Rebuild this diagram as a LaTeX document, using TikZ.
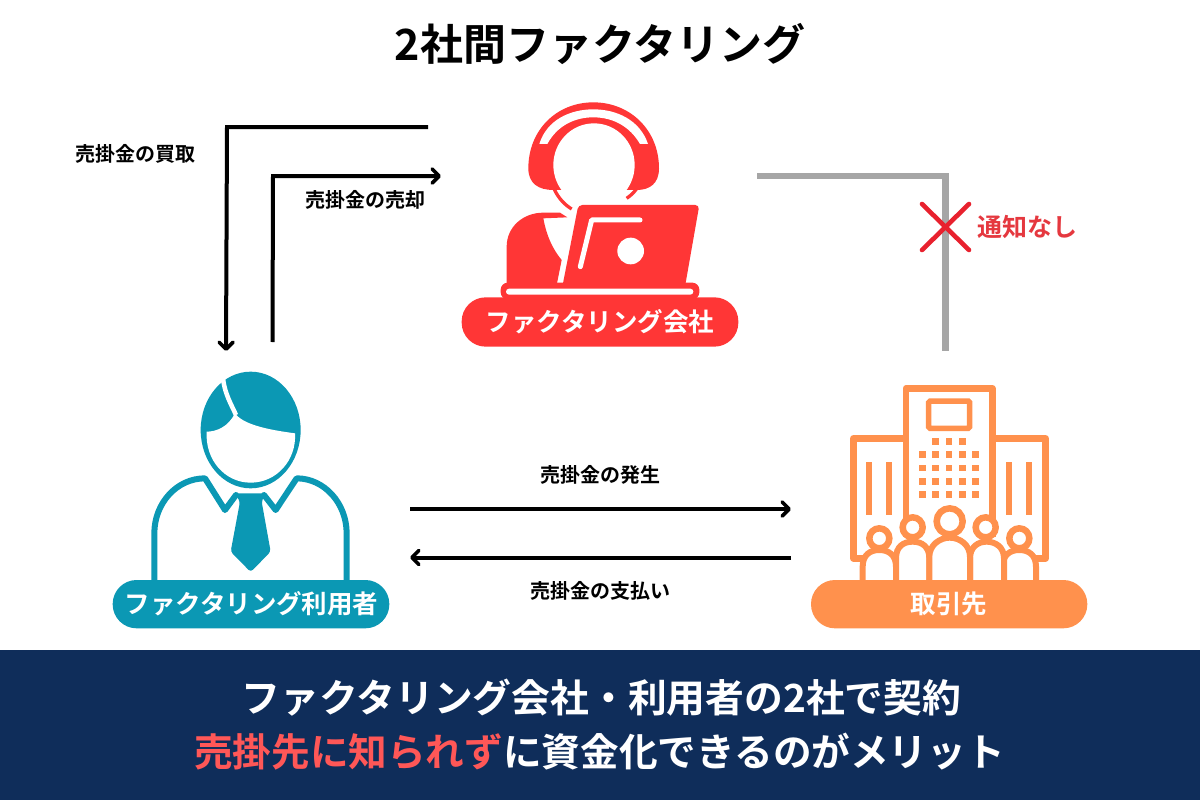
\documentclass[tikz,border=0pt]{standalone}
\usepackage{fontspec}
\setmainfont{Noto Sans CJK JP}[BoldFont={Noto Sans CJK JP Bold}]
\usetikzlibrary{arrows.meta}
\definecolor{cred}{HTML}{FF3636}
\definecolor{cblue}{HTML}{0B98B4}
\definecolor{corange}{HTML}{FF914D}
\definecolor{cnavy}{HTML}{0F2D5A}
\definecolor{cgray}{HTML}{A6A6A6}
\definecolor{cpink}{HTML}{FF5757}
\definecolor{ccross}{HTML}{E8212E}
\definecolor{cnotice}{HTML}{E5383F}
\tikzset{
  x=1pt,y=-1pt,
  lbl/.style={font=\bfseries\fontsize{20}{24}\selectfont,text=black,inner sep=0pt},
  pilltext/.style={font=\bfseries\fontsize{25.5}{30}\selectfont,text=white,inner sep=0pt},
  conn/.style={line width=4pt,-{Straight Barb[length=7pt,width=14pt,line width=3.6pt,round]},line join=miter},
  grayconn/.style={line width=6.5pt,draw=cgray,line join=miter},
  zoomed/.style={x=0.33333pt,y=-0.33333pt},
}
\begin{document}
\begin{tikzpicture}
\useasboundingbox (0,0) rectangle (1200,800);
\fill[white] (0,0) rectangle (1200,800);
\fill[cnavy] (0,650) rectangle (1200,800);
\node[inner sep=0pt,font=\bfseries\fontsize{43}{50}\selectfont] (title) at (600,44) {2社間ファクタリング};

% red icon
\begin{scope}[shift={(440,90)},zoomed]
\fill[cred] (265,235) .. controls (265,120) and (350,37) .. (460,37) .. controls (570,37) and (657,120) .. (657,235) .. controls (657,280) and (630,300) .. (590,300) -- (340,300) .. controls (295,300) and (265,280) .. (265,235) -- cycle;
\fill[white] (298,162) .. controls (320,90) and (390,58) .. (460,58) .. controls (530,58) and (600,90) .. (624,162) -- (600,162) .. controls (570,110) and (520,82) .. (460,82) .. controls (400,82) and (350,110) .. (322,162) -- cycle;
\fill[white] (462,225) ellipse [x radius=122,y radius=125];
\draw[cred,line width=3.3pt] (342,296) .. controls (355,325) and (375,345) .. (395,357);
\draw[cred,line width=3.3pt] (590,296) .. controls (580,310) and (570,318) .. (560,325);
\fill[cred] (200,585) -- (200,470) .. controls (200,410) and (250,368) .. (310,368) -- (360,368) -- (382,382) -- (310,385) .. controls (320,440) and (340,480) .. (365,510) -- (350,585) -- cycle;
\fill[cred,rounded corners=4pt] (415,345) -- (778,345) -- (735,590) -- (367,590) -- cycle;
\draw[white,line width=5pt,line cap=round,line join=round] (600,390) -- (455,390) -- (421,530);
\fill[white] (572,483) circle [radius=40];
\fill[cred,rounded corners=7pt] (182,578) rectangle (778,628);
\fill[white,rounded corners=3pt] (198,596) rectangle (760,614);
\fill[cred,rounded corners=24pt] (65,622) rectangle (895,770);
\end{scope}
\node[pilltext] (redlabel) at (600,322) {ファクタリング会社};

% blue icon
\begin{scope}[shift={(100,360)},zoomed]
\draw[cblue,line width=6pt,line join=round,line cap=round] (163,665) -- (163,520) .. controls (163,430) and (230,355) .. (315,355) -- (375,450) -- (408,405);
\draw[cblue,line width=6pt,line join=round,line cap=round] (740,665) -- (740,520) .. controls (740,430) and (673,355) .. (590,355) -- (527,450) -- (492,405);
\fill[cblue] (452,210) ellipse [x radius=150,y radius=175];
\fill[white] (320,215) .. controls (350,215) and (385,200) .. (405,160) .. controls (430,195) and (510,210) .. (585,220) .. controls (590,300) and (530,368) .. (452,368) .. controls (375,368) and (315,300) .. (320,215) -- cycle;
\draw[white,line width=4.5pt] (368,45) .. controls (372,100) and (395,135) .. (408,165);
\fill[cblue,rounded corners=3pt] (405,400) -- (495,400) -- (485,425) -- (512,575) -- (452,636) -- (392,575) -- (420,425) -- cycle;
\fill[cblue,rounded corners=24pt] (38,660) rectangle (868,805);
\end{scope}
\node[pilltext] (bluelabel) at (251.5,604) {ファクタリング利用者};

% orange icon
\begin{scope}[shift={(800,370)},zoomed,draw=corange,fill=corange]
\draw[line width=6.5pt,line join=round,fill=white] (160,565) -- (160,205) -- (737,205) -- (737,565) -- cycle;
\draw[line width=6.5pt,line join=round,fill=white] (318,500) -- (318,55) -- (577,55) -- (577,500);
\draw[line width=5.5pt,rounded corners=1.5pt] (386,93) rectangle (509,175);
\foreach \px in {407,447,487} \fill (\px-10,204) rectangle +(20,20);
\foreach \py in {254,294,334,374} \foreach \px in {367,407,447,487,527} \fill (\px-10,\py-10) rectangle +(20,20);
\foreach \px in {207,267,627,687} \fill (\px-9,275) rectangle +(18,160);
\foreach \cx/\cy in {238/505,658/505} \draw[line width=6.5pt,fill=white] (\cx,\cy) circle [radius=30];
\draw[line width=6pt,fill=white] (188,640) -- (188,590) .. controls (188,555) and (210,540) .. (238,540) .. controls (266,540) and (288,555) .. (288,590) -- (288,640) -- cycle;
\draw[line width=6pt,fill=white] (608,640) -- (608,590) .. controls (608,555) and (630,540) .. (658,540) .. controls (686,540) and (708,555) .. (708,590) -- (708,640) -- cycle;
\foreach \cx/\cy in {338/472,557/472} \draw[line width=6.5pt,fill=white] (\cx,\cy) circle [radius=30];
\draw[line width=6pt,fill=white] (288,640) -- (288,565) .. controls (288,530) and (310,515) .. (338,515) .. controls (366,515) and (388,530) .. (388,565) -- (388,640) -- cycle;
\draw[line width=6pt,fill=white] (510,640) -- (510,565) .. controls (510,530) and (535,515) .. (560,515) .. controls (585,515) and (612,530) .. (612,565) -- (612,640) -- cycle;
\draw[line width=6.5pt,fill=white] (449,454) circle [radius=39];
\draw[line width=6pt,fill=white] (388,640) -- (388,560) .. controls (388,525) and (420,503) .. (449,503) .. controls (480,503) and (510,525) .. (510,560) -- (510,640) -- cycle;
\fill[rounded corners=24pt] (33,630) rectangle (862,775);
\end{scope}
\node[pilltext] (orangelabel) at (949,604) {取引先};

% connectors
\coordinate (buyS) at (428,127);
\coordinate (buyC) at (227,127);
\coordinate (buyE) at (226,351);
\coordinate (sellS) at (272.5,342);
\coordinate (sellC) at (273,176);
\coordinate (sellE) at (441,176);
\coordinate (grayS) at (757,176);
\coordinate (grayC) at (945.5,176);
\coordinate (grayE) at (945.5,351);
\coordinate (hassei) at (410,509);
\coordinate (hasseiE) at (791,509);
\coordinate (shiharai) at (791,557.5);
\coordinate (shiharaiE) at (410,557.5);
\draw[conn] (buyS) -- (buyC) -- (buyE);
\draw[conn] (sellS) -- (sellC) -- (sellE);
\draw[grayconn] (grayS) -- (grayC) -- (grayE);
\draw[conn] (hassei) -- (hasseiE);
\draw[conn] (shiharai) -- (shiharaiE);
\coordinate (xa) at (922,204);
\coordinate (xb) at (969,250);
\coordinate (xc) at (969,204);
\coordinate (xd) at (922,250);
\draw[ccross,line width=4.6pt,line cap=round] (xa) -- (xb);
\draw[ccross,line width=4.6pt,line cap=round] (xc) -- (xd);

\node[lbl] (l1) at (135,154) {売掛金の買取};
\node[lbl] (l2) at (365,200) {売掛金の売却};
\node[lbl] (l3) at (600,475) {売掛金の発生};
\node[lbl] (l4) at (600,591) {売掛金の支払い};
\node[inner sep=0pt,font=\bfseries\fontsize{25}{30}\selectfont,text=cnotice] (l5) at (1027,227) {通知なし};

\node[inner sep=0pt,font=\bfseries\fontsize{38.8}{45}\selectfont,text=white] (b1) at (601.5,698) {ファクタリング会社・利用者の2社で契約};
\node[inner sep=0pt,font=\bfseries\fontsize{38.65}{45}\selectfont,text=white] (b2) at (599.5,752) {\textcolor{cpink}{売掛先に知られず}に資金化できるのがメリット};
\end{tikzpicture}
\end{document}
